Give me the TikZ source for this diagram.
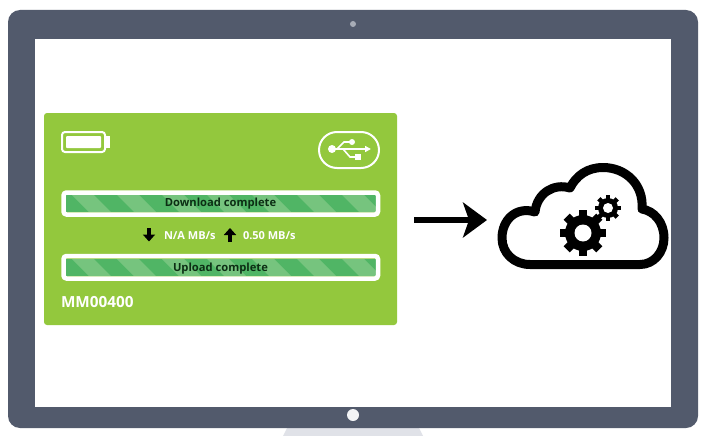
\documentclass[tikz,border=0pt]{standalone}
\usepackage{fontspec}
\usetikzlibrary{arrows.meta}
\setmainfont{Open Sans}
\definecolor{framegray}{HTML}{525A6C}
\definecolor{standgray}{HTML}{E0E2E8}
\definecolor{panelgreen}{HTML}{93C83D}
\definecolor{bardark}{HTML}{50B565}
\definecolor{barlight}{HTML}{76C47E}
\definecolor{bartext}{HTML}{0C2E14}
\begin{document}
\begin{tikzpicture}[x=1pt,y=-1pt,inner sep=0pt,outer sep=0pt,
whitebox/.style={draw=white,line width=4.5pt,rounded corners=3pt},
bartitle/.style={font=\bfseries\fontsize{11.2}{12}\selectfont,text=bartext},
ratetext/.style={font=\bfseries\fontsize{11}{12}\selectfont,text=white},
ratearrow/.style={-{Triangle[length=7pt,width=12pt]},line width=3.4pt,black},
cloudline/.style={draw=black,line width=9pt,line join=round},
gearbig/.style={line width=8.5pt,black},
gearsmall/.style={line width=4.6pt,black}]
\useasboundingbox (0,0) rectangle (704,436);
\fill[white] (0,0) rectangle (704,436);
% monitor
\fill[standgray] (287,428) -- (419,428) -- (423,436) -- (283,436) -- cycle;
\fill[framegray,rounded corners=12pt] (8,10) rectangle (698,428);
\fill[white] (35,39) rectangle (671,407);
\fill[standgray!60!framegray] (353,24) circle (3);
\fill[standgray!40!white] (353,415) circle (6);
% panel
\fill[panelgreen,rounded corners=3pt] (44,113) rectangle (397,325);
\node[minimum width=353pt,minimum height=212pt] (panel) at (220.5,219) {};
% battery
\draw[white,line width=2pt,rounded corners=3pt] (62,132) rectangle (105,152);
\fill[white,rounded corners=1pt] (66,136) rectangle (101,148);
\fill[white] (106,136) rectangle (110,148);
% usb
\draw[white,line width=2pt,rounded corners=18pt] (319,132) rectangle (379,168);
\fill[white] (332,149) circle (4);
\fill[white] (352,142) circle (3);
\fill[white] (355,154) rectangle (361,160);
\draw[white,line width=1.6pt,-{Triangle[length=6pt,width=6pt]}] (332,149) -- (371,149);
\draw[white,line width=1.6pt] (337,149) -- (344,142) -- (352,142);
\draw[white,line width=1.6pt] (343,149) -- (350,157) -- (358,157);
% download bar
\begin{scope}
\clip (66,195) rectangle (376,212);
\fill[bardark] (66,195) rectangle (376,212);
\foreach \x in {27,72,...,370}
  \fill[barlight] (\x,195) -- ++(22,0) -- ++(17,17) -- ++(-22,0) -- cycle;
\end{scope}
\draw[whitebox] (63.5,192.5) rectangle (378,214.5);
\node[bartitle] (download) at (220.5,204) {Download complete};
% upload bar
\begin{scope}
\clip (66,259) rectangle (376,276);
\fill[bardark] (66,259) rectangle (376,276);
\foreach \x in {27,72,...,370}
  \fill[barlight] (\x,259) -- ++(22,0) -- ++(17,17) -- ++(-22,0) -- cycle;
\end{scope}
\draw[whitebox] (63.5,256) rectangle (378,278.5);
\node[bartitle] (upload) at (220.5,268.5) {Upload complete};
% rates
\node[ratetext,anchor=west] (narate) at (164,236) {N/A MB/s};
\node[ratetext,anchor=west] (uprate) at (243,236) {0.50 MB/s};
\coordinate (downtop) at (149,228);
\coordinate (downend) at (149,241.5);
\coordinate (uptop) at (230,228);
\coordinate (upend) at (230,242);
\draw[ratearrow] (downtop) -- (downend);
\draw[ratearrow] (upend) -- (uptop);
\node[anchor=west,text=white,font=\bfseries\fontsize{15.3}{17}\selectfont] (model) at (61,302) {MM00400};
% arrow to cloud
\coordinate (arrowstart) at (414,220);
\coordinate (arrowend) at (487,220);
\draw[line width=5.5pt,-{Stealth[length=24pt,width=35pt,inset=6pt]}] (arrowstart) -- (arrowend);
% cloud
\draw[cloudline] (530,264.5) -- (640,264.5)
  .. controls (654,264.5) and (664,252) .. (664,238)
  .. controls (664,222) and (654,211) .. (642,209)
  .. controls (644,185) and (626,167.5) .. (603,167.5)
  .. controls (587,167.5) and (576,176) .. (570,188)
  .. controls (554,183) and (537,193) .. (535,212)
  .. controls (516,206) and (502,220) .. (502,238)
  .. controls (502,253) and (514,264.5) .. (530,264.5) -- cycle;
% gears
\coordinate (gearA) at (583,233);
\coordinate (gearB) at (608,208);
\fill[black] (gearA) circle (18);
\foreach \a in {0,45,...,315}
  \draw[gearbig] (gearA) ++(\a:15) -- ++(\a:8);
\fill[white] (gearA) circle (8.5);
\fill[black] (gearB) circle (10);
\foreach \a in {0,45,...,315}
  \draw[gearsmall] (gearB) ++(\a:8) -- ++(\a:5);
\fill[white] (gearB) circle (5);
\end{tikzpicture}
\end{document}
